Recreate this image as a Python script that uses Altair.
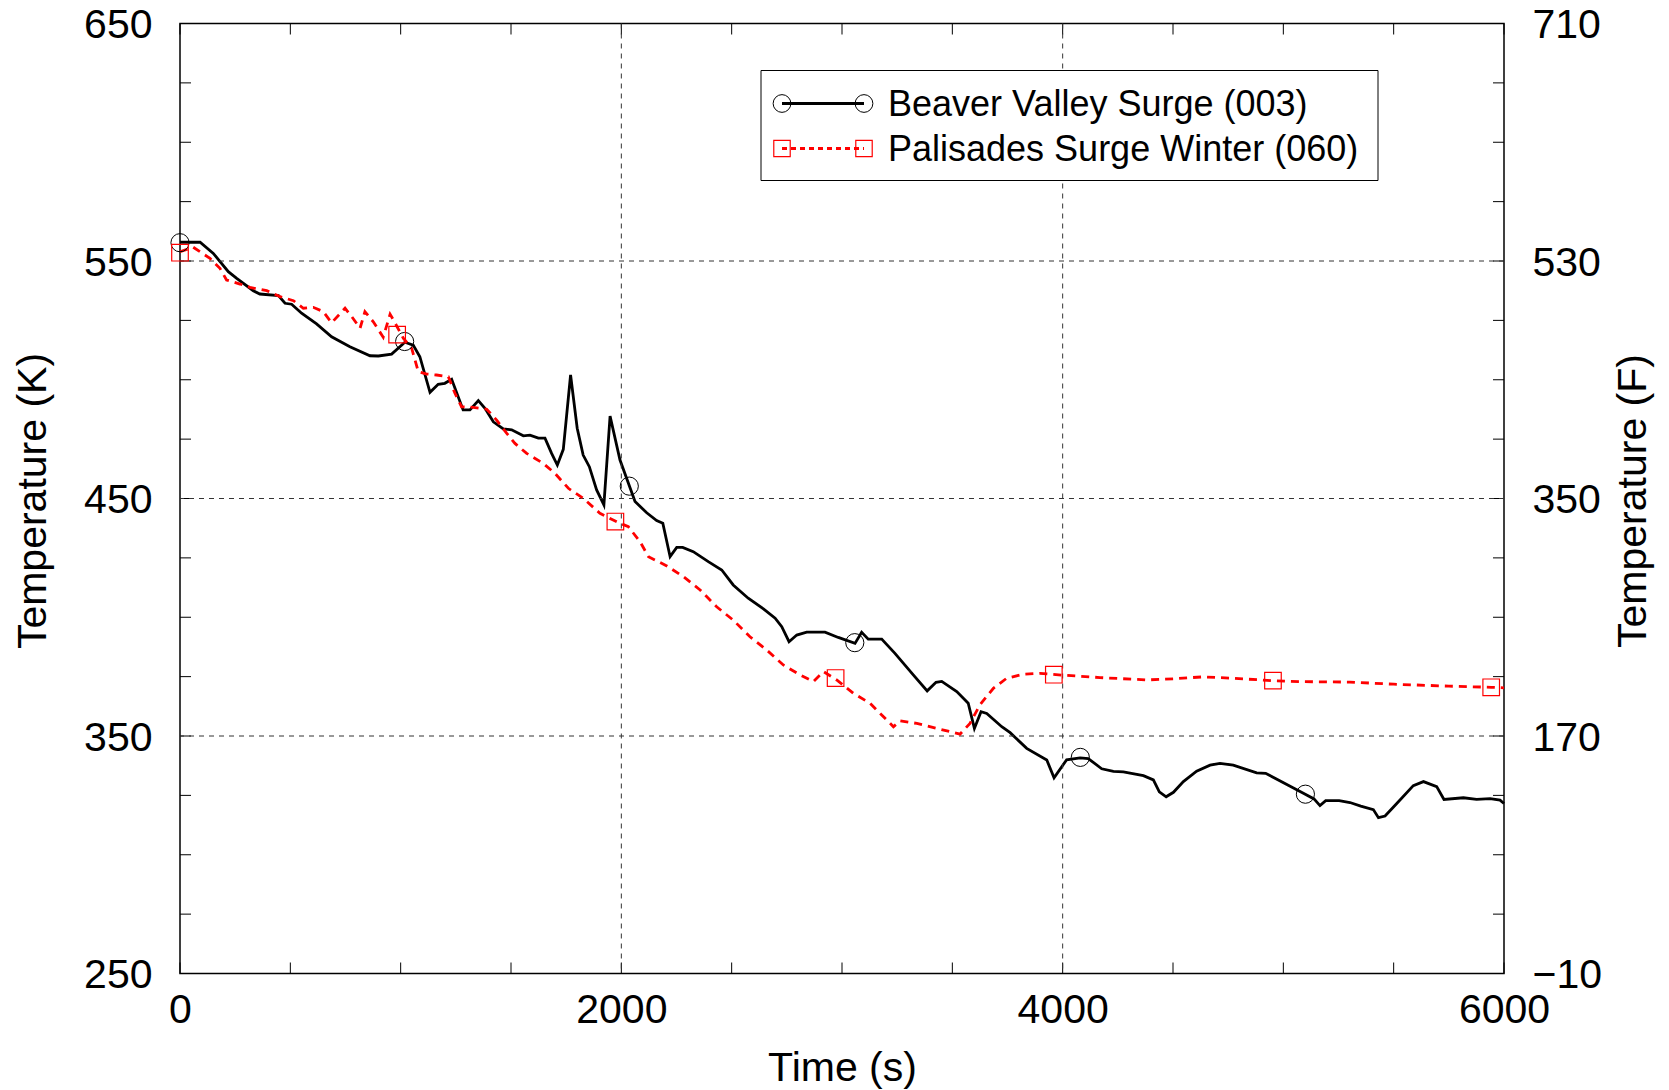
import altair as alt
import pandas as pd

# ---------------- data ----------------
bv_t = [0, 91, 151, 219, 257, 332, 362, 446, 476, 506, 551, 619, 687, 770, 861, 899, 959,
        1019, 1057, 1087, 1133, 1170, 1200, 1231, 1283, 1314, 1352, 1382, 1420, 1465, 1503,
        1556, 1586, 1624, 1654, 1684, 1710, 1737, 1770, 1800, 1827, 1855, 1888, 1921, 1949,
        1994, 2062, 2115, 2160, 2188, 2221, 2251, 2278, 2326, 2394, 2455, 2507, 2575, 2644,
        2697, 2727, 2760, 2795, 2840, 2923, 2983, 3059, 3089, 3119, 3180, 3240, 3323, 3386,
        3426, 3452, 3520, 3572, 3600, 3630, 3656, 3724, 3762, 3837, 3928, 3961, 4018, 4079,
        4116, 4177, 4230, 4275, 4366, 4411, 4438, 4469, 4502, 4547, 4607, 4668, 4713, 4773,
        4879, 4920, 5003, 5093, 5139, 5166, 5192, 5253, 5302, 5351, 5408, 5431, 5461, 5514,
        5589, 5635, 5695, 5728, 5816, 5876, 5937, 5982, 6000]
bv_K = [557.9, 557.9, 553.2, 545.5, 542.7, 537.5, 536.1, 535.4, 532.2, 531.8, 528.0, 523.5,
        518.1, 513.9, 510.1, 510.0, 510.8, 515.8, 514.6, 509.7, 494.7, 498.1, 498.5, 500.2,
        487.3, 487.3, 491.2, 488.0, 482.3, 479.3, 478.9, 476.4, 476.7, 475.4, 475.4, 469.0,
        464.1, 470.7, 502.0, 479.6, 468.3, 463.4, 453.6, 447.3, 484.7, 466.2, 448.7, 444.0,
        440.7, 439.6, 425.5, 429.4, 429.4, 427.6, 423.4, 419.9, 413.6, 408.0, 403.5, 399.6,
        396.0, 389.7, 392.5, 393.7, 393.7, 391.5, 389.0, 393.7, 390.8, 390.8, 384.8, 375.7,
        369.0, 372.6, 373.0, 368.7, 363.8, 353.2, 360.2, 359.5, 353.9, 351.4, 344.8, 339.9,
        332.4, 340.0, 340.8, 340.5, 336.2, 335.1, 334.9, 333.3, 331.5, 326.5, 324.4, 326.3,
        330.8, 335.2, 337.7, 338.5, 337.7, 334.5, 334.3, 330.2, 325.8, 323.5, 320.7, 322.8,
        322.8, 322.0, 320.5, 319.0, 315.6, 316.3, 321.6, 329.1, 330.8, 328.7, 323.3, 324.0,
        323.3, 323.6, 323.0, 321.6]

pal_t = [0, 60, 136, 181, 211, 272, 317, 393, 453, 514, 559, 604, 649, 687, 748, 778, 816,
         838, 876, 921, 952, 967, 1012, 1050, 1080, 1118, 1163, 1216, 1246, 1276, 1329, 1390,
         1435, 1480, 1518, 1571, 1646, 1699, 1760, 1827, 1903, 1979, 2032, 2085, 2123, 2206,
         2281, 2357, 2432, 2507, 2583, 2659, 2734, 2810, 2870, 2916, 2976, 3051, 3127, 3233,
         3263, 3339, 3429, 3535, 3580, 3625, 3686, 3746, 3822, 3897, 4003, 4169, 4381, 4502,
         4638, 4773, 4951, 5076, 5302, 5500, 5750, 5942, 6000]
pal_K = [553.9, 555.8, 551.1, 546.9, 542.0, 540.3, 538.9, 537.5, 535.0, 533.3, 530.1, 530.5,
         528.7, 524.0, 530.1, 526.6, 521.7, 528.7, 524.4, 517.9, 527.6, 525.2, 517.5, 513.2,
         503.4, 502.4, 502.0, 501.3, 494.3, 488.6, 488.4, 487.6, 483.0, 477.5, 473.2, 469.0,
         464.8, 460.6, 454.3, 450.1, 443.8, 440.2, 438.1, 431.8, 425.5, 421.6, 417.1, 411.5,
         404.4, 398.8, 391.8, 386.2, 379.9, 375.7, 372.9, 377.1, 373.6, 368.0, 363.8, 353.9,
         356.4, 355.3, 353.2, 350.8, 355.3, 363.1, 370.1, 374.3, 376.0, 376.4, 375.6, 374.6,
         373.6, 374.1, 374.9, 374.3, 373.3, 372.9, 372.7, 371.8, 371.0, 370.5, 370.3]

bv_marker_t = [0, 1018, 2036, 3058, 4080, 5100]
bv_marker_K = [557.7, 516.1, 455.2, 389.3, 341.0, 325.5]
pal_marker_t = [0, 984, 1973, 2971, 3960, 4953, 5942]
pal_marker_K = [553.5, 519.0, 440.3, 374.4, 375.8, 373.3, 370.5]

series_names = ["Beaver Valley Surge (003)", "Palisades Surge Winter (060)"]

x_tick_values = list(range(0, 6001, 500))
x_label_values = [0, 2000, 4000, 6000]
y_tick_values = list(range(250, 651, 25))
y_label_values_K = [250, 350, 450, 550, 650]
y_label_text_F = ["\u221210", "170", "350", "530", "710"]   # right axis, same positions
x_grid_values = [2000, 4000]
y_grid_values = [350, 450, 550]

# ---------------- styling ----------------
W, H = 1324, 950
FONT = "Liberation Sans, Arial, Helvetica, sans-serif"
TICK = 11

xscale = alt.Scale(domain=[0, 6000], nice=False, zero=False)
yscale = alt.Scale(domain=[250, 650], nice=False, zero=False)

common_axis = dict(grid=False, ticks=False, domain=False, format="d", labelFlush=False,
                   labelFont=FONT, labelFontSize=41, labelColor="black",
                   titleFont=FONT, titleFontSize=41, titleFontWeight="normal",
                   titleColor="black", labelOverlap=False)

f_label_expr = " : ".join(
    f"datum.value == {k} ? '{s}'" for k, s in zip(y_label_values_K, y_label_text_F)
) + " : ''"

x_axis = alt.Axis(values=x_label_values, title="Time (s)", labelPadding=17, orient="bottom",
                  titleY=75, titleBaseline="top", titleAlign="center", **common_axis)
y_axis = alt.Axis(values=y_label_values_K, title="Temperature (K)", labelPadding=28,
                  orient="left", labelOffset=2,
                  titleX=-126, titleY=477, titleAngle=270, titleBaseline="bottom",
                  titleAlign="center", **common_axis)
f_axis = alt.Axis(values=y_label_values_K, title="Temperature (F)", orient="right",
                  labelExpr=f_label_expr, labelAlign="left", labelOffset=2,
                  labelPadding=28, titleX=150, titleY=477, titleAngle=270,
                  titleBaseline="bottom", titleAlign="center", **common_axis)

bv_df = pd.DataFrame({"t": bv_t, "K": bv_K})
pal_df = pd.DataFrame({"t": pal_t, "K": pal_K})
bv_mk_df = pd.DataFrame({"t": bv_marker_t, "K": bv_marker_K})
pal_mk_df = pd.DataFrame({"t": pal_marker_t, "K": pal_marker_K})


def X(field="t:Q", axis=None):
    # x is a shared axis: layers without their own axis simply leave it unset
    if axis is None:
        return alt.X(field, scale=xscale)
    return alt.X(field, scale=xscale, axis=axis)


def Y(field="K:Q", axis=None):
    # y axes are resolved independently: layers without an axis hide theirs
    return alt.Y(field, scale=yscale, axis=axis)


GRID = dict(color="#333", strokeWidth=1, strokeDash=[5, 5])
x_grid = alt.Chart(pd.DataFrame({"t": x_grid_values})).mark_rule(**GRID).encode(x=X())
y_grid = alt.Chart(pd.DataFrame({"K": y_grid_values})).mark_rule(**GRID).encode(y=Y())

# inward ticks on all four sides
xt_df = pd.DataFrame({"t": x_tick_values})
yt_df = pd.DataFrame({"K": y_tick_values})
tick_style = dict(color="black", strokeWidth=1)
xt_bottom = alt.Chart(xt_df).mark_rule(**tick_style).encode(
    x=X(), y=alt.value(H - TICK), y2=alt.value(H))
xt_top = alt.Chart(xt_df).mark_rule(**tick_style).encode(
    x=X(), y=alt.value(0), y2=alt.value(TICK))
yt_left = alt.Chart(yt_df).mark_rule(**tick_style).encode(
    y=Y(axis=y_axis), x=alt.value(0), x2=alt.value(TICK))
yt_right = alt.Chart(yt_df).mark_rule(**tick_style).encode(
    y=Y(axis=f_axis), x=alt.value(W - TICK), x2=alt.value(W))

# data lines and markers
line_bv = alt.Chart(bv_df).mark_line(color="black", strokeWidth=2.8).encode(
    x=X(axis=x_axis), y=Y(), order="t:Q")
line_pal = alt.Chart(pal_df).mark_line(color="#ff0000", strokeWidth=2.8,
                                       strokeDash=[8, 6]).encode(x=X(), y=Y(), order="t:Q")
mk_bv = alt.Chart(bv_mk_df).mark_point(shape="circle", filled=False, color="black",
                                       strokeWidth=1, size=330, opacity=1).encode(x=X(), y=Y())
mk_pal = alt.Chart(pal_mk_df).mark_point(shape="square", filled=False, color="#ff0000",
                                         strokeWidth=1.2, size=275, opacity=1).encode(x=X(), y=Y())

# legend (line sample with a marker at both ends)
leg_df = pd.DataFrame({"name": [series_names[0]]})
LX0, LX1, LY0, LY1 = 581, 1198, 47, 157
rows_y = [80, 125]
SX0, SX1, TX = 602, 684, 708
legend_box = alt.Chart(leg_df).mark_rect(fill="white", stroke="black", strokeWidth=1).encode(
    x=alt.value(LX0), x2=alt.value(LX1), y=alt.value(LY0), y2=alt.value(LY1))
legend_layers = [legend_box]
styles = [
    dict(color="black", dash=None, shape="circle", size=314, sw=1),
    dict(color="#ff0000", dash=[5, 4], shape="square", size=270, sw=1.2),
]
for name, ry, st in zip(series_names, rows_y, styles):
    d = pd.DataFrame({"name": [name]})
    rule_kw = dict(color=st["color"], strokeWidth=2.8)
    if st["dash"]:
        rule_kw["strokeDash"] = st["dash"]
    legend_layers.append(alt.Chart(d).mark_rule(**rule_kw).encode(
        x=alt.value(SX0), x2=alt.value(SX1), y=alt.value(ry)))
    for sx in (SX0, SX1):
        legend_layers.append(alt.Chart(d).mark_point(
            shape=st["shape"], filled=False, color=st["color"], strokeWidth=st["sw"],
            size=st["size"], opacity=1).encode(x=alt.value(sx), y=alt.value(ry)))
    legend_layers.append(alt.Chart(d).mark_text(
        align="left", baseline="middle", font=FONT, fontSize=36, color="black", dy=1).encode(
        x=alt.value(TX), y=alt.value(ry), text="name:N"))

chart = alt.layer(
    line_bv, yt_left, yt_right, xt_bottom, xt_top, x_grid, y_grid,
    line_pal, mk_bv, mk_pal, *legend_layers
).resolve_axis(y="independent").properties(
    width=W, height=H,
    autosize=alt.AutoSizeParams(type="none"),
    padding={"left": 180, "top": 23.5, "right": 165, "bottom": 116.5},
    background="white",
).configure_view(stroke="black", strokeWidth=1.5)

chart.save("out.html", embed_options={"renderer": "svg", "actions": False})
